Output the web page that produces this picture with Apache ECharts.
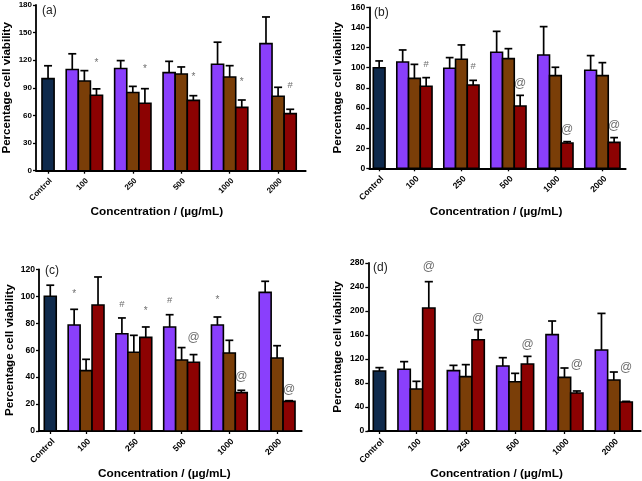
<!DOCTYPE html>
<html><head><meta charset="utf-8">
<script src="https://cdn.jsdelivr.net/npm/echarts@6/dist/echarts.min.js"></script>
<style>html,body{margin:0;padding:0;background:#fff}#c{width:642px;height:481px}</style>
</head><body><div id="c"></div>
<script>
// ---------- data ----------
const categories = ['Control', '100', '250', '500', '1000', '2000'];
const xTitle = 'Concentration / (µg/mL)';
const yTitle = 'Percentage cell viability';

// Panel (a)
const ctrlA = [100], ctrlErrA = [14];
const purpleA = [110, 111, 106.5, 115.6, 138], purpleErrA = [17, 8.6, 12.3, 24, 29];
const brownA = [97.5, 85, 105, 101.8, 80.8], brownErrA = [11.2, 6.6, 7.7, 12.3, 9.8];
const redA = [82, 73.2, 76.4, 68.8, 62], redErrA = [6.9, 15.9, 5.1, 8, 4.7];
const notesA = [['red', 1, '*', 116.7], ['red', 2, '*', 110], ['red', 3, '*', 101], ['red', 4, '*', 95.6], ['red', 5, '#', 93]];

// Panel (b)
const ctrlB = [100], ctrlErrB = [6.7];
const purpleB = [105.7, 99.4, 115.3, 112.6, 97.4], purpleErrB = [11.9, 10.6, 20.8, 28.2, 14.6];
const brownB = [89.4, 108.3, 109, 92.1, 92.1], brownErrB = [13.9, 14.3, 9.9, 8.3, 12.9];
const redB = [81.5, 82.8, 61.9, 25.2, 25.8], redErrB = [8.6, 4.6, 10.6, 1.3, 4.7];
const notesB = [['red', 1, '#', 103.3], ['red', 2, '#', 101.7], ['red', 3, '@', 84.5], ['red', 4, '@', 38.8], ['red', 5, '@', 42.1]];

// Panel (c)
const ctrlC = [100], ctrlErrC = [8.2];
const purpleC = [78.7, 72.2, 77.2, 78.7, 102.9], purpleErrC = [11.6, 11.7, 9.1, 5.9, 8.2];
const brownC = [44.8, 58.4, 52.7, 57.9, 54.2], brownErrC = [8.4, 12.6, 9.2, 9.4, 9.1];
const redC = [93.5, 69.5, 51, 28.5, 22], redErrC = [20.8, 7.7, 5.7, 1.7, 0.5];
const notesC = [['purple', 1, '*', 101.7], ['purple', 2, '#', 94.3], ['red', 2, '*', 88.6], ['purple', 3, '#', 96.7], ['red', 3, '@', 69.5], ['purple', 4, '*', 97], ['red', 4, '@', 40.3], ['red', 5, '@', 30.9]];

// Panel (d)
const ctrlD = [100], ctrlErrD = [5.6];
const purpleD = [102.8, 100.6, 108.3, 160.6, 135], purpleErrD = [12.8, 8.8, 13.9, 22.7, 61];
const brownD = [70, 90.6, 82.2, 89.4, 85], brownErrD = [12.8, 20, 13.9, 15.6, 13.3];
const redD = [205, 152.2, 111.7, 63.3, 48.3], redErrD = [43.9, 16.7, 12.7, 3.4, 1.1];
const notesD = [['red', 1, '@', 273.9], ['red', 2, '@', 187.2], ['red', 3, '@', 143.3], ['red', 4, '@', 111.1], ['red', 5, '@', 105.6]];

// ---------- styling / layout ----------
const COLORS = { control: '#0f2a4c', purple: '#8a3ffc', brown: '#7a3e08', red: '#8c0202' };
const FONT = '"Liberation Sans", Arial, sans-serif';
const BAR_ORDER = { purple: 0, brown: 1, red: 2 };
function slot(key, gi) { return key === 'control' ? 0 : 2 + (gi - 1) * 4 + BAR_ORDER[key]; }
const tickSlots = categories.map((c, i) => i === 0 ? 0 : slot('brown', i));

const panels = [
  { label: '(a)', lx: 42, ly: 5, ctrl: ctrlA, ctrlErr: ctrlErrA, purple: purpleA, purpleErr: purpleErrA, brown: brownA, brownErr: brownErrA, red: redA, redErr: redErrA, notes: notesA,
    yMax: 180, yInt: 30, grid: { left: 35.7, top: 5, width: 270, height: 165.7 }, xMin: -0.995, xMax: 21.28, xShift: 28, xGap: 31, yGap: 23, tickFont: 8 },
  { label: '(b)', lx: 374, ly: 6.5, ctrl: ctrlB, ctrlErr: ctrlErrB, purple: purpleB, purpleErr: purpleErrB, brown: brownB, brownErr: brownErrB, red: redB, redErr: redErrB, notes: notesB,
    yMax: 160, yInt: 20, grid: { left: 369.3, top: 7.3, width: 256.4, height: 161 }, xMin: -0.84, xMax: 20.985, xShift: 3, xGap: 31.2, yGap: 25.6, tickFont: 8.6 },
  { label: '(c)', lx: 45, ly: 265, ctrl: ctrlC, ctrlErr: ctrlErrC, purple: purpleC, purpleErr: purpleErrC, brown: brownC, brownErr: brownErrC, red: redC, redErr: redErrC, notes: notesC,
    yMax: 120, yInt: 20, grid: { left: 39, top: 269.3, width: 262.7, height: 161.7 }, xMin: -0.944, xMax: 21.06, xShift: 12, xGap: 32.5, yGap: 23.3, tickFont: 8.6 },
  { label: '(d)', lx: 373, ly: 262, ctrl: ctrlD, ctrlErr: ctrlErrD, purple: purpleD, purpleErr: purpleErrD, brown: brownD, brownErr: brownErrD, red: redD, redErr: redErrD, notes: notesD,
    yMax: 280, yInt: 40, grid: { left: 368.3, top: 263, width: 272.4, height: 168 }, xMin: -0.905, xMax: 21.18, xShift: 16, xGap: 33, yGap: 24.3, tickFont: 8.6 }
];

function barRender(color) {
  return function (params, api) {
    const x = api.value(0), v = api.value(1), e = api.value(2);
    const tl = api.coord([x - 0.5, v]);
    const br = api.coord([x + 0.5, 0]);
    const w = br[0] - tl[0];
    const cx = (tl[0] + br[0]) / 2;
    const top = api.coord([x, v + e])[1];
    const cap = w * 0.33;
    return {
      type: 'group', children: [
        { type: 'line', shape: { x1: cx, y1: tl[1], x2: cx, y2: top }, style: { stroke: '#000', lineWidth: 1.7 } },
        { type: 'line', shape: { x1: cx - cap, y1: top, x2: cx + cap, y2: top }, style: { stroke: '#000', lineWidth: 1.7 } },
        { type: 'rect', shape: { x: tl[0], y: tl[1], width: w, height: br[1] - tl[1] }, style: { fill: color, stroke: '#000', lineWidth: 1.6 } }
      ]
    };
  };
}

function noteRender(notes) {
  return function (params, api) {
    const p = api.coord([api.value(0), api.value(1)]);
    const t = notes[params.dataIndex][2];
    const size = t === '@' ? 12 : (t === '#' ? 9.5 : 10);
    return { type: 'text', x: p[0], y: p[1], style: { text: t, fill: '#6e6e6e', fontSize: size, fontFamily: FONT, align: 'center', verticalAlign: 'middle' } };
  };
}

const grid = [], xAxis = [], yAxis = [], series = [], title = [];
panels.forEach((P, k) => {
  grid.push(P.grid);
  title.push({ text: P.label, left: P.lx, top: P.ly, padding: 0, textStyle: { fontSize: 12, fontWeight: 'normal', color: '#222', fontFamily: FONT } });
  xAxis.push({
    type: 'value', gridIndex: k, min: P.xMin, max: P.xMax,
    name: xTitle, nameLocation: 'middle', nameGap: P.xGap,
    nameTextStyle: { fontSize: 11.8, fontWeight: 'bold', color: '#000', fontFamily: FONT, padding: [0, P.xShift, 0, 0] },
    axisLine: { show: true, onZero: false, lineStyle: { color: '#000', width: 1.8 } },
    axisTick: { show: true, length: 3, lineStyle: { color: '#000', width: 1.3 }, customValues: tickSlots },
    axisLabel: {
      customValues: tickSlots, rotate: 45, margin: 6, align: 'right', verticalAlign: 'top',
      fontSize: P.tickFont, fontWeight: 'bold', color: '#000', fontFamily: FONT,
      formatter: v => { const i = tickSlots.indexOf(Math.round(v)); return i >= 0 ? categories[i] : ''; }
    },
    splitLine: { show: false }
  });
  yAxis.push({
    type: 'value', gridIndex: k, min: 0, max: P.yMax, interval: P.yInt,
    name: yTitle, nameLocation: 'middle', nameGap: P.yGap,
    nameTextStyle: { fontSize: 11.6, fontWeight: 'bold', color: '#000', fontFamily: FONT },
    axisLine: { show: true, onZero: false, lineStyle: { color: '#000', width: 1.8 } },
    axisTick: { show: true, length: 3, lineStyle: { color: '#000', width: 1.3 } },
    axisLabel: { margin: 4, fontSize: P.tickFont, fontWeight: 'bold', color: '#000', fontFamily: FONT },
    splitLine: { show: false }
  });
  series.push({
    type: 'custom', xAxisIndex: k, yAxisIndex: k, renderItem: barRender(COLORS.control), clip: false,
    encode: { x: 0, y: 1 }, data: P.ctrl.map((v, i) => [slot('control', 0), v, P.ctrlErr[i]])
  });
  ['purple', 'brown', 'red'].forEach(key => {
    series.push({
      type: 'custom', xAxisIndex: k, yAxisIndex: k, renderItem: barRender(COLORS[key]), clip: false,
      encode: { x: 0, y: 1 }, data: P[key].map((v, i) => [slot(key, i + 1), v, P[key + 'Err'][i]])
    });
  });
  series.push({
    type: 'custom', xAxisIndex: k, yAxisIndex: k, renderItem: noteRender(P.notes), clip: false, silent: true,
    encode: { x: 0, y: 1 }, data: P.notes.map(n => [slot(n[0], n[1]), n[3]])
  });
});

const chart = echarts.init(document.getElementById('c'), null, { renderer: 'canvas' });
chart.setOption({ animation: false, backgroundColor: '#fff', title, grid, xAxis, yAxis, series });
</script>
</body></html>
